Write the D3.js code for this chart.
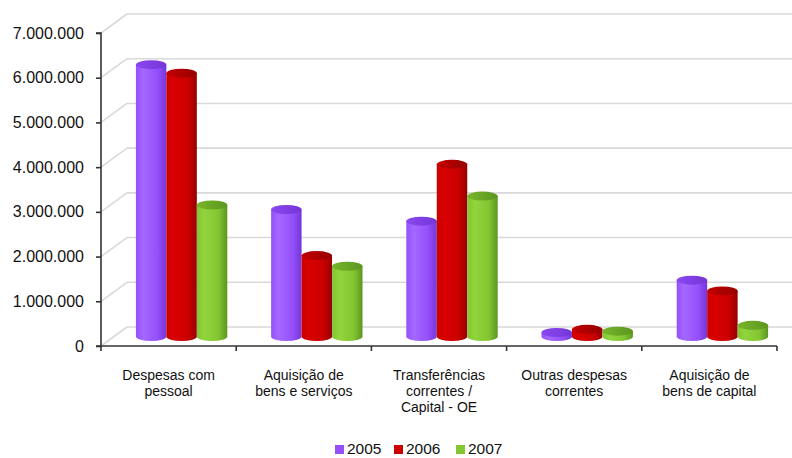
<!DOCTYPE html>
<html>
<head>
<meta charset="utf-8">
<script src="https://cdn.jsdelivr.net/npm/d3@7"></script>
<style>
  html, body { margin: 0; padding: 0; background: #fff; }
  svg { display: block; font-family: "Liberation Sans", Arial, sans-serif; }
</style>
</head>
<body>
<svg id="chart" width="792" height="458"></svg>
<script>
// Despesas por agrupamento económico, 2005–2007
const categories = [
  ["Despesas com", "pessoal"],
  ["Aquisição de", "bens e serviços"],
  ["Transferências", "correntes /", "Capital - OE"],
  ["Outras despesas", "correntes"],
  ["Aquisição de", "bens de capital"]
];
const years = ["2005", "2006", "2007"];
const values2005 = [6080000, 2840000, 2580000, 90000, 1260000];
const values2006 = [5890000, 1810000, 3850000, 160000, 1020000];
const values2007 = [2940000, 1570000, 3140000, 120000, 250000];
const yTicks = [0, 1000000, 2000000, 3000000, 4000000, 5000000, 6000000, 7000000];

const seriesValues = [values2005, values2006, values2007];
const colors = {
  "2005": { light: "#a468ff", base: "#9550fb", dark: "#7436d8", top: "#8a48f0" },
  "2006": { light: "#d80000", base: "#cc0000", dark: "#960000", top: "#c40000" },
  "2007": { light: "#92d43c", base: "#84c632", dark: "#5c9620", top: "#76b62a" }
};

const svg = d3.select("#chart");
const plot = { left: 101, right: 777, top: 33, bottom: 346 };
const depth = { dx: 26, dy: -19 };

const x = d3.scaleBand().domain(d3.range(categories.length)).range([plot.left, plot.right]);
const sub = d3.scaleBand().domain(years)
  .range([x.bandwidth() * 0.162, x.bandwidth() * (1 - 0.162)]);
const y = d3.scaleLinear().domain([0, 7000000]).range([plot.bottom, plot.top]);

const locale = d3.formatLocale({ decimal: ",", thousands: ".", grouping: [3], currency: ["€", ""] });
const fmt = locale.format(",");

// gradients for the cylinder bodies and caps
const defs = svg.append("defs");
years.forEach(yr => {
  const c = colors[yr];
  const g = defs.append("linearGradient").attr("id", "body" + yr)
    .attr("x1", "0%").attr("x2", "100%").attr("y1", "0%").attr("y2", "0%");
  g.append("stop").attr("offset", "0%").attr("stop-color", c.base);
  g.append("stop").attr("offset", "25%").attr("stop-color", c.light);
  g.append("stop").attr("offset", "70%").attr("stop-color", c.base);
  g.append("stop").attr("offset", "100%").attr("stop-color", c.dark);
  const t = defs.append("linearGradient").attr("id", "top" + yr)
    .attr("x1", "0%").attr("x2", "100%").attr("y1", "0%").attr("y2", "0%");
  t.append("stop").attr("offset", "0%").attr("stop-color", c.top);
  t.append("stop").attr("offset", "100%").attr("stop-color", c.dark);
});

// back wall gridlines and side-wall diagonals
const grid = svg.append("g").attr("stroke", "#d9d9d9").attr("stroke-width", 1.6).attr("fill", "none");
yTicks.forEach(v => {
  const yy = y(v);
  grid.append("line")
    .attr("x1", plot.left + depth.dx).attr("x2", 792)
    .attr("y1", yy + depth.dy).attr("y2", yy + depth.dy);
  grid.append("line")
    .attr("x1", plot.left).attr("y1", yy)
    .attr("x2", plot.left + depth.dx).attr("y2", yy + depth.dy);
});

// cylinders
const bars = svg.append("g");
const ry = 4.5;
categories.forEach((cat, ci) => {
  years.forEach((yr, si) => {
    const v = seriesValues[si][ci];
    const bw = sub.bandwidth();
    const x0 = x(ci) + sub(yr) + depth.dx / 2;
    const rx = bw / 2;
    const cx = x0 + rx;
    const yTop = y(v) + depth.dy / 2;
    const yBot = y(0) + depth.dy / 2;
    const body = `M${x0},${yBot} L${x0},${yTop} L${x0 + bw},${yTop} L${x0 + bw},${yBot} A${rx},${ry} 0 0 1 ${x0},${yBot} Z`;
    bars.append("path").attr("d", body).attr("fill", `url(#body${yr})`);
    bars.append("ellipse")
      .attr("cx", cx).attr("cy", yTop).attr("rx", rx).attr("ry", ry)
      .attr("fill", `url(#top${yr})`);
  });
});

// value axis
const yAxis = svg.append("g").attr("transform", `translate(${plot.left},0)`)
  .call(d3.axisLeft(y).tickValues(yTicks).tickFormat(fmt).tickSize(5).tickPadding(12));
yAxis.select(".domain").attr("stroke", "#333").attr("stroke-width", 1.6).attr("d", `M-5,${plot.top}H0V${plot.bottom}H-5`);
yAxis.selectAll(".tick line").attr("stroke", "#333").attr("stroke-width", 1.6);
yAxis.selectAll("text").attr("font-size", 16).attr("fill", "#111").attr("font-family", "Liberation Sans, Arial, sans-serif");

// category axis
const boundaries = d3.range(categories.length + 1).map(i => plot.left + i * x.bandwidth());
const xAxis = svg.append("g");
xAxis.append("line").attr("x1", plot.left).attr("x2", plot.right)
  .attr("y1", plot.bottom).attr("y2", plot.bottom)
  .attr("stroke", "#333").attr("stroke-width", 1.6);
boundaries.forEach(b => {
  xAxis.append("line").attr("x1", b).attr("x2", b)
    .attr("y1", plot.bottom).attr("y2", plot.bottom + 5)
    .attr("stroke", "#333").attr("stroke-width", 1.6);
});
categories.forEach((lines, ci) => {
  const cx = x(ci) + x.bandwidth() / 2;
  lines.forEach((ln, li) => {
    xAxis.append("text")
      .attr("x", cx).attr("y", 380 + li * 16)
      .attr("text-anchor", "middle").attr("font-size", 14).attr("fill", "#111")
      .text(ln);
  });
});

// legend
const legendX = [335, 394, 456];
const legend = svg.append("g");
years.forEach((yr, i) => {
  legend.append("rect").attr("x", legendX[i]).attr("y", 445).attr("width", 9).attr("height", 9)
    .attr("fill", colors[yr].base);
  legend.append("text").attr("x", legendX[i] + 12).attr("y", 454)
    .attr("font-size", 15.5).attr("fill", "#111").text(yr);
});
</script>
</body>
</html>
